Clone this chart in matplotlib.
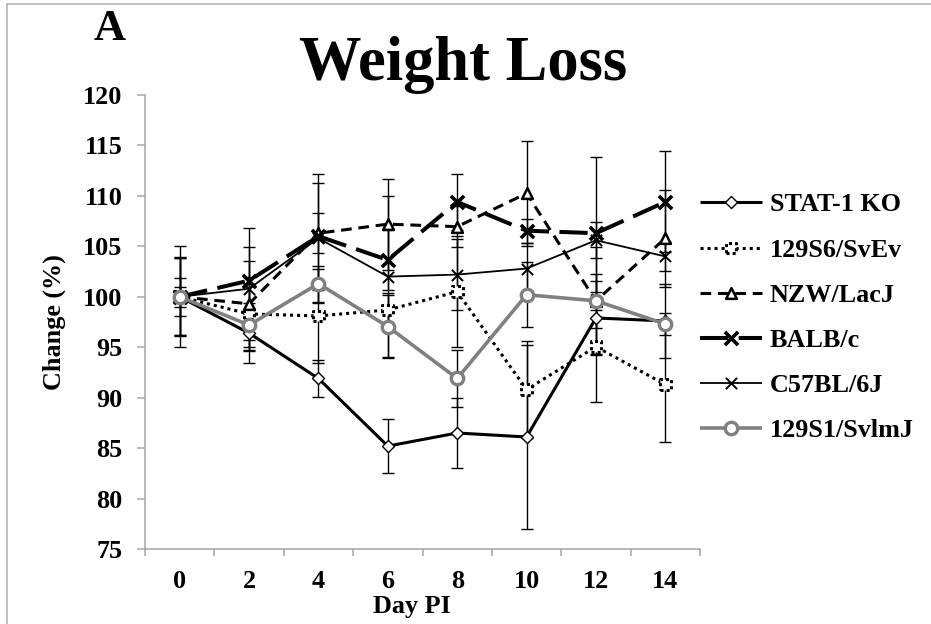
import matplotlib
matplotlib.use("Agg")
import matplotlib.pyplot as plt
from matplotlib.lines import Line2D
import numpy as np

# ---------------- data ----------------
days = [0, 2, 4, 6, 8, 10, 12, 14]
series_names = ["STAT-1 KO", "129S6/SvEv", "NZW/LacJ", "BALB/c", "C57BL/6J", "129S1/SvlmJ"]

stat1 = [100, 96.4, 91.9, 85.2, 86.5, 86.1, 97.9, 97.6]
stat1_err = [1.9, 3.0, 1.8, 2.7, 3.5, 9.1, 3.7, 3.7]

s129s6 = [100, 98.3, 98.1, 98.7, 100.5, 90.8, 95.05, 91.3]
s129s6_err = [3.8, 3.7, 4.7, 1.7, 5.5, 4.8, 5.45, 5.7]

nzw = [100, 99.3, 106.3, 107.2, 106.95, 110.25, 99.6, 105.8]
nzw_err = [3.8, 4.25, 2.0, 4.5, 2.0, 5.2, 5.3, 4.8]

balb = [100, 101.6, 106.0, 103.65, 109.4, 106.55, 106.3, 109.4]
balb_err = [5.0, 3.3, 5.3, 3.0, 2.8, 1.2, 7.6, 5.0]

c57 = [100, 100.8, 105.8, 102.0, 102.2, 102.8, 105.6, 104.0]
c57_err = [3.9, 6.05, 6.4, 8.0, 3.5, 2.5, 1.8, 1.4]

s129s1 = [100, 97.2, 101.3, 97.05, 91.9, 100.2, 99.6, 97.3]
s129s1_err = [1.0, 1.5, 1.8, 3.1, 2.8, 3.2, 2.7, 1.1]

y_ticks = [75, 80, 85, 90, 95, 100, 105, 110, 115, 120]

values = [stat1, s129s6, nzw, balb, c57, s129s1]
errors = [stat1_err, s129s6_err, nzw_err, balb_err, c57_err, s129s1_err]

# ---------------- styles ----------------
GRAY = "#808080"
line_styles = [
    dict(color="black", lw=2.2, ls="-"),
    dict(color="black", lw=2.2, ls=(0, (1, 1.3))),
    dict(color="black", lw=2.2, ls=(0, (3.5, 2.2))),
    dict(color="black", lw=2.9, ls=(0, (7, 2.6))),
    dict(color="black", lw=1.3, ls="-"),
    dict(color=GRAY, lw=2.6, ls="-"),
]
marker_styles = [
    dict(marker="D", s=38, facecolors="white", edgecolors="black", linewidths=1.0),
    dict(marker="s", s=60, facecolors="white", edgecolors="black", linewidths=2.2, linestyle=(0, (1, 1.0))),
    dict(marker="^", s=60, facecolors="white", edgecolors="black", linewidths=1.8),
    dict(marker="x", s=90, facecolors="black", edgecolors="black", linewidths=2.6),
    dict(marker="x", s=65, facecolors="black", edgecolors="black", linewidths=1.4),
    dict(marker="o", s=80, facecolors="white", edgecolors=GRAY, linewidths=2.4),
]

plt.rcParams["font.family"] = ["Liberation Serif", "DejaVu Serif"]
plt.rcParams["font.weight"] = "bold"
FS = 18.8

W, H = 931, 624
fig = plt.figure(figsize=(W / 100, H / 100), dpi=100)
ax = fig.add_axes([145 / W, 1 - 549 / H, (700 - 145) / W, (549 - 95) / H])

x = np.arange(len(days))
for i, (vals, errs) in enumerate(zip(values, errors)):
    ax.plot(x, vals, zorder=2 + i * 0.1, solid_capstyle="butt", dash_capstyle="butt",
            **line_styles[i])
    ax.errorbar(x, vals, yerr=errs, fmt="none", ecolor="black", elinewidth=1.0,
                capsize=4.5, capthick=1.0, zorder=3 + i * 0.1)
    ax.scatter(x, vals, zorder=4 + i * 0.1, **marker_styles[i])

ax.set_xlim(-0.5, len(days) - 0.5)
ax.set_ylim(75, 120)
ax.set_yticks(y_ticks)
ax.set_yticklabels([str(v) for v in y_ticks])
ax.set_xticks(np.arange(-0.5, len(days), 1.0))
ax.set_xticklabels([])
ax.set_xticks(x, minor=True)
ax.set_xticklabels([str(d) for d in days], minor=True)

SPC = "#a6a6a6"
for s in ["top", "right"]:
    ax.spines[s].set_visible(False)
for s in ["left", "bottom"]:
    ax.spines[s].set_color(SPC)
    ax.spines[s].set_linewidth(1.1)
ax.tick_params(axis="y", which="major", direction="out", length=6, width=1.1, color=SPC,
               labelsize=FS, pad=10.3)
ax.tick_params(axis="x", which="major", direction="out", length=5, width=1.1, color=SPC)
ax.tick_params(axis="x", which="minor", length=0, labelsize=FS, pad=15)
ax.set_facecolor("none")

ax.set_xlabel("Day PI", fontsize=FS, fontweight="bold")
ax.xaxis.set_label_coords((412 - 145) / (700 - 145), -(607 - 549) / (549 - 95))
ax.xaxis.label.set_verticalalignment("center")
ax.set_ylabel("Change (%)", fontsize=FS, fontweight="bold", labelpad=12)

fig.text(463 / W, 1 - 80 / H, "Weight Loss", ha="center", va="baseline", fontsize=45,
         fontweight="bold")
fig.text(110 / W, 1 - 40 / H, "A", ha="center", va="baseline", fontsize=32, fontweight="bold")

# ---------------- legend (drawn in pixel coordinates of an overlay) ----------------
lax = fig.add_axes([0, 0, 1, 1])
lax.set_xlim(0, W)
lax.set_ylim(H, 0)
lax.axis("off")
leg_y = [202, 248, 293, 338, 383, 428]
for i, name in enumerate(series_names):
    yy = leg_y[i]
    lax.plot([700, 762], [yy, yy], solid_capstyle="butt", dash_capstyle="butt", **line_styles[i])
    lax.scatter([731], [yy], zorder=3, **marker_styles[i])
    lax.text(770, yy, name, ha="left", va="center_baseline", fontsize=FS, fontweight="bold")

# figure border (left and top edges)
fig.add_artist(Line2D([7 / W, 7 / W], [0, 1 - 4 / H], transform=fig.transFigure,
                      color="#b4b4b4", lw=1.2))
fig.add_artist(Line2D([7 / W, 1], [1 - 4 / H, 1 - 4 / H], transform=fig.transFigure,
                      color="#b4b4b4", lw=1.2))

fig.savefig("out.png", dpi=100, facecolor="white")
